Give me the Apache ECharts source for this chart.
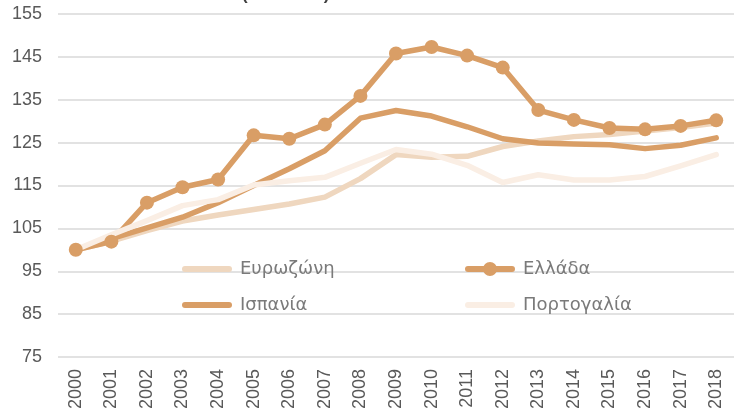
<!DOCTYPE html>
<html>
<head>
<meta charset="utf-8">
<script src="https://cdn.jsdelivr.net/npm/echarts@6/dist/echarts.min.js"></script>
<style>
  html, body { margin: 0; padding: 0; background: #fff; }
  #chart { width: 734px; height: 413px; }
</style>
</head>
<body>
<div id="chart"></div>
<script>
var years = ['2000','2001','2002','2003','2004','2005','2006','2007','2008','2009',
             '2010','2011','2012','2013','2014','2015','2016','2017','2018'];
var eurozone = [100, 102, 104.5, 106.7, 108.1, 109.4, 110.7, 112.3, 116.6, 122.2, 121.6, 121.8, 124.1, 125.4, 126.4, 126.9, 127.7, 128.5, 129.6];
var greece   = [100, 101.9, 111, 114.6, 116.4, 126.7, 125.9, 129.2, 135.9, 145.8, 147.3, 145.3, 142.5, 132.6, 130.3, 128.4, 128.1, 128.9, 130.2];
var spain    = [100, 102.6, 105.1, 107.6, 111, 115, 118.9, 123.1, 130.7, 132.5, 131.2, 128.7, 125.9, 124.9, 124.7, 124.5, 123.6, 124.4, 126.1];
var portugal = [100, 103.5, 106.8, 110.3, 111.7, 115.1, 116.1, 116.9, 120.2, 123.4, 122.3, 119.7, 115.7, 117.5, 116.3, 116.3, 117.1, 119.6, 122.2];
var names = ['Ευρωζώνη', 'Ελλάδα', 'Ισπανία', 'Πορτογαλία'];

var dark = '#d99e66';
var legendText = { color: '#7a7a7a', fontSize: 18, fontFamily: 'DejaVu Sans', padding: [0, 0, 0, 3] };

// capsule-shaped line icon, and the same with a round marker in the middle
var barIcon = 'path://M3,0 H47 A3,3 0 0 1 47,6 H3 A3,3 0 0 1 3,0 Z';
var markIcon = 'path://M3,4 H47 A3,3 0 0 1 47,10 H3 A3,3 0 0 1 3,4 Z M32,7 A7,7 0 1 1 18,7 A7,7 0 1 1 32,7 Z';

function legendAt(name, x, y, marker) {
    return {
        data: [{ name: name, icon: marker ? markIcon : barIcon }],
        left: x, top: y,
        padding: 0,
        itemWidth: 50, itemHeight: marker ? 14 : 6,
        selectedMode: false,
        itemStyle: { borderWidth: 0 },
        textStyle: legendText
    };
}

function lineSeries(name, data, color, marker) {
    return {
        name: name,
        type: 'line',
        data: data,
        symbol: marker ? 'circle' : 'none',
        symbolSize: 14,
        showSymbol: marker,
        itemStyle: { color: color },
        lineStyle: { color: color, width: 5.5, cap: 'round', join: 'round' },
        emphasis: { disabled: true },
        animation: false
    };
}

var chart = echarts.init(document.getElementById('chart'));
chart.setOption({
    backgroundColor: '#fff',
    title: {
        text: '(2000=100)',
        left: 237, top: -18,
        textStyle: { fontSize: 17, fontWeight: 'bold', color: '#404040', fontFamily: 'Liberation Sans' }
    },
    legend: [
        legendAt(names[0], 182, 260, false),
        legendAt(names[1], 465, 260, true),
        legendAt(names[2], 182, 296, false),
        legendAt(names[3], 465, 296, false)
    ],
    grid: { left: 58, right: -9, top: 14, bottom: 56 },
    xAxis: {
        type: 'category',
        data: years,
        boundaryGap: true,
        axisLine: { show: false },
        axisTick: { show: false },
        axisLabel: { rotate: 90, color: '#595959', fontSize: 18, fontFamily: 'Liberation Sans', margin: 12 }
    },
    yAxis: {
        type: 'value',
        min: 75, max: 155, interval: 10,
        axisLine: { show: false },
        axisTick: { show: false },
        axisLabel: { color: '#595959', fontSize: 18, fontFamily: 'Liberation Sans', margin: 16 },
        splitLine: { lineStyle: { color: '#d9d9d9', width: 1.5 } }
    },
    series: [
        lineSeries(names[0], eurozone, '#efd7bf', false),
        lineSeries(names[1], greece, dark, true),
        lineSeries(names[2], spain, dark, false),
        lineSeries(names[3], portugal, '#faeee4', false)
    ]
});
</script>
</body>
</html>
